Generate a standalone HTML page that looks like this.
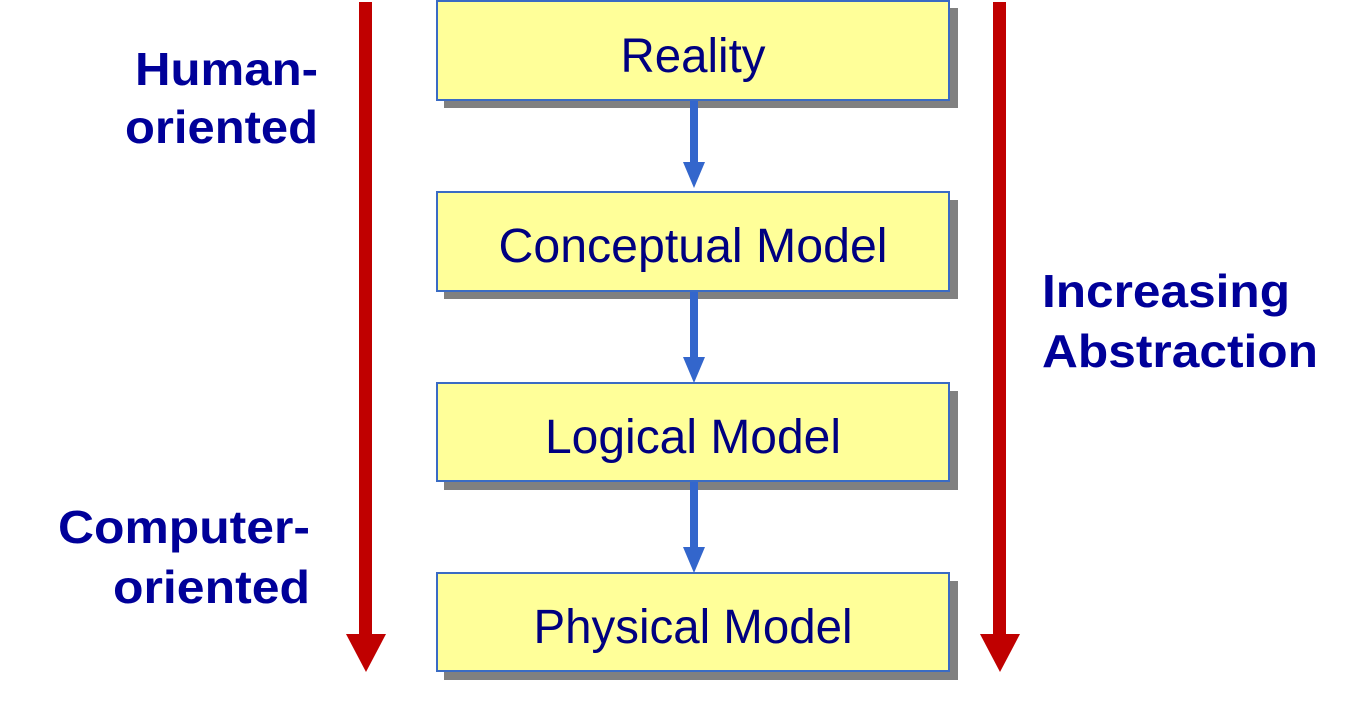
<!DOCTYPE html>
<html><head><meta charset="utf-8"><style>
html,body{margin:0;padding:0;background:#fff;}
svg{display:block;}
</style></head><body>
<svg width="1349" height="712" viewBox="0 0 1349 712" xmlns="http://www.w3.org/2000/svg">
<g fill="#808080">
<rect x="444" y="8" width="514" height="100"/>
<rect x="444" y="200" width="514" height="99"/>
<rect x="444" y="391" width="514" height="99"/>
<rect x="444" y="581" width="514" height="99"/>
</g>
<g fill="#ffff99" stroke="#3a6bc4" stroke-width="2">
<rect x="437" y="1" width="512" height="99"/>
<rect x="437" y="192" width="512" height="99"/>
<rect x="437" y="383" width="512" height="98"/>
<rect x="437" y="573" width="512" height="98"/>
</g>
<g fill="#3366cc">
<rect x="690" y="101" width="8" height="62"/><polygon points="683,162 705,162 694,188"/>
<rect x="690" y="292" width="8" height="66"/><polygon points="683,357 705,357 694,383"/>
<rect x="690" y="482" width="8" height="66"/><polygon points="683,547 705,547 694,573"/>
</g>
<g fill="#c00000">
<rect x="359" y="2" width="13" height="633"/><polygon points="346,634 386,634 366,672"/>
<rect x="993" y="2" width="13" height="633"/><polygon points="980,634 1020,634 1000,672"/>
</g>
<g font-family="Liberation Sans, sans-serif" fill="#000080" font-size="48" text-anchor="middle">
<text x="693" y="72" textLength="145" lengthAdjust="spacingAndGlyphs">Reality</text>
<text x="693" y="262" textLength="389" lengthAdjust="spacingAndGlyphs">Conceptual Model</text>
<text x="693" y="453" textLength="296" lengthAdjust="spacingAndGlyphs">Logical Model</text>
<text x="693" y="643" textLength="319" lengthAdjust="spacingAndGlyphs">Physical Model</text>
</g>
<g font-family="Liberation Sans, sans-serif" fill="#000099" font-size="46" font-weight="bold" lengthAdjust="spacingAndGlyphs">
<text x="135" y="85" textLength="183" lengthAdjust="spacingAndGlyphs">Human-</text>
<text x="125" y="143" textLength="193" lengthAdjust="spacingAndGlyphs">oriented</text>
<text x="58" y="543" textLength="252" lengthAdjust="spacingAndGlyphs">Computer-</text>
<text x="113" y="603" textLength="197" lengthAdjust="spacingAndGlyphs">oriented</text>
<text x="1042" y="307" textLength="248" lengthAdjust="spacingAndGlyphs">Increasing</text>
<text x="1042" y="367" textLength="276" lengthAdjust="spacingAndGlyphs">Abstraction</text>
</g>
</svg>
</body></html>
